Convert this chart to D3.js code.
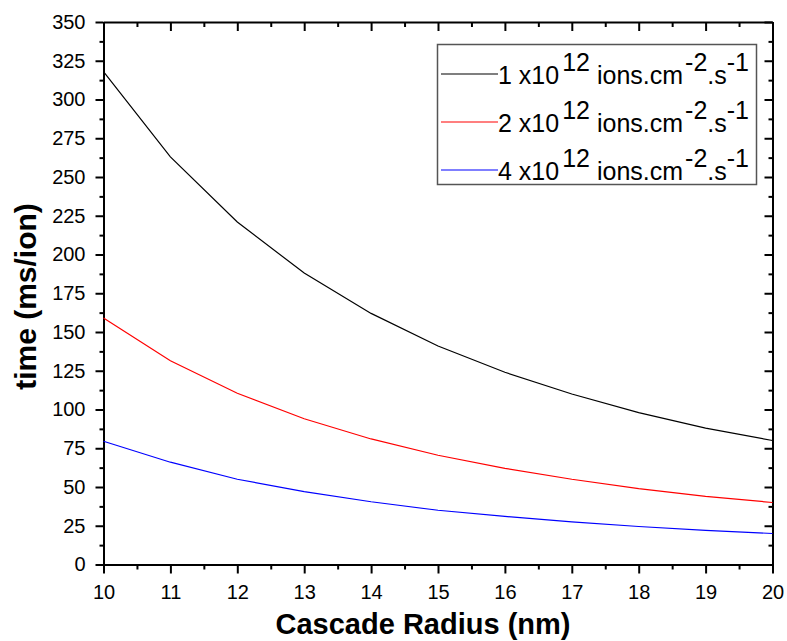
<!DOCTYPE html>
<html>
<head>
<meta charset="utf-8">
<script src="https://cdn.jsdelivr.net/npm/d3@7"></script>
<style>
  html, body { margin: 0; padding: 0; background: #fff; }
  svg { display: block; font-family: "Liberation Sans", Arial, sans-serif; }
</style>
</head>
<body>
<svg id="chart" width="787" height="641"></svg>
<script>
// ---- data ----
const radius = [10, 11, 12, 13, 14, 15, 16, 17, 18, 19, 20];
const flux1 = [318, 263, 221, 188, 162, 141, 124, 110, 98, 88, 80];
const flux2 = [159, 131.5, 110.5, 94, 81, 70.5, 62, 55, 49, 44, 40];
const flux4 = [79.5, 66, 55, 47, 40.5, 35, 31, 27.5, 24.5, 22, 20];
const seriesNames = ["1", "2", "4"];
const seriesColors = ["#000000", "#ff0000", "#0000ff"];
const xTicks = [10, 11, 12, 13, 14, 15, 16, 17, 18, 19, 20];
const yTicks = [0, 25, 50, 75, 100, 125, 150, 175, 200, 225, 250, 275, 300, 325, 350];
const xLabel = "Cascade Radius (nm)";
const yLabel = "time (ms/ion)";

// ---- layout ----
const L = 103.5, R = 772.5, T = 22, B = 564.5;
const svg = d3.select("#chart");
const x = d3.scaleLinear().domain([10, 20]).range([L, R]);
const y = d3.scaleLinear().domain([0, 350]).range([B, T]);

const xMinor = d3.range(10, 20.01, 0.5).filter(v => !xTicks.includes(v));
const yMinor = d3.range(0, 350.01, 12.5).filter(v => !yTicks.includes(v));

function styleAxis(g) {
  g.selectAll(".domain").attr("stroke", "#000").attr("stroke-width", 2);
  g.selectAll(".tick line").attr("stroke", "#000").attr("stroke-width", 2);
}

// minor ticks
svg.append("g").attr("transform", `translate(0,${B})`)
  .call(d3.axisBottom(x).tickValues(xMinor).tickSize(5).tickFormat(""))
  .call(styleAxis).call(g => g.select(".domain").remove());
svg.append("g").attr("transform", `translate(0,${T})`)
  .call(d3.axisTop(x).tickValues(xMinor).tickSize(-5).tickFormat(""))
  .call(styleAxis).call(g => g.select(".domain").remove());
svg.append("g").attr("transform", `translate(${L},0)`)
  .call(d3.axisLeft(y).tickValues(yMinor).tickSize(4).tickFormat(""))
  .call(styleAxis).call(g => g.select(".domain").remove());
svg.append("g").attr("transform", `translate(${R},0)`)
  .call(d3.axisRight(y).tickValues(yMinor).tickSize(-4).tickFormat(""))
  .call(styleAxis).call(g => g.select(".domain").remove());

// major axes
const gx = svg.append("g").attr("transform", `translate(0,${B})`)
  .call(d3.axisBottom(x).tickValues(xTicks).tickSize(9).tickSizeOuter(0).tickPadding(11).tickFormat(d3.format("d")))
  .call(styleAxis);
gx.selectAll(".tick text").attr("font-size", 20).attr("fill", "#000").attr("font-family", "Liberation Sans, Arial, sans-serif");

svg.append("g").attr("transform", `translate(0,${T})`)
  .call(d3.axisTop(x).tickValues(xTicks).tickSize(-9).tickSizeOuter(0).tickFormat(""))
  .call(styleAxis);

const gy = svg.append("g").attr("transform", `translate(${L},0)`)
  .call(d3.axisLeft(y).tickValues(yTicks).tickSize(8).tickSizeOuter(0).tickPadding(10).tickFormat(d3.format("d")))
  .call(styleAxis);
gy.selectAll(".tick text").attr("font-size", 20).attr("fill", "#000").attr("font-family", "Liberation Sans, Arial, sans-serif");

svg.append("g").attr("transform", `translate(${R},0)`)
  .call(d3.axisRight(y).tickValues(yTicks).tickSize(-8).tickSizeOuter(0).tickFormat(""))
  .call(styleAxis);

// lines
const series = [flux1, flux2, flux4];
const line = d3.line().x((d, i) => x(radius[i])).y(d => y(d));
series.forEach((s, k) => {
  svg.append("path").datum(s)
    .attr("fill", "none").attr("stroke", seriesColors[k]).attr("stroke-width", 1.2)
    .attr("d", line);
});

// legend
const lg = svg.append("g");
lg.append("rect").attr("x", 437.5).attr("y", 44.5).attr("width", 319).attr("height", 140)
  .attr("fill", "#fff").attr("stroke", "#555").attr("stroke-width", 1.5);
seriesNames.forEach((n, k) => {
  const cy = 74 + k * 48;
  lg.append("line").attr("x1", 441).attr("x2", 498).attr("y1", cy).attr("y2", cy)
    .attr("stroke", seriesColors[k]).attr("stroke-width", 1.2);
  const t = lg.append("text").attr("x", 498).attr("y", cy + 9.5)
    .attr("font-size", 25).attr("fill", "#000");
  t.append("tspan").text(n + " x10");
  t.append("tspan").attr("dx", 3).attr("dy", -13).text("12");
  t.append("tspan").attr("dy", 13).text(" ions.cm");
  t.append("tspan").attr("dx", 2).attr("dy", -13).text("-2");
  t.append("tspan").attr("dy", 13).text(".s");
  t.append("tspan").attr("dy", -13).text("-1");
});

// axis titles
svg.append("text").attr("x", 423).attr("y", 634).attr("text-anchor", "middle")
  .attr("font-size", 29).attr("font-weight", "bold").attr("fill", "#000").text(xLabel);
svg.append("text").attr("transform", "translate(36,296.5) rotate(-90)").attr("text-anchor", "middle")
  .attr("font-size", 30).attr("font-weight", "bold").attr("fill", "#000").text(yLabel);
</script>
</body>
</html>
